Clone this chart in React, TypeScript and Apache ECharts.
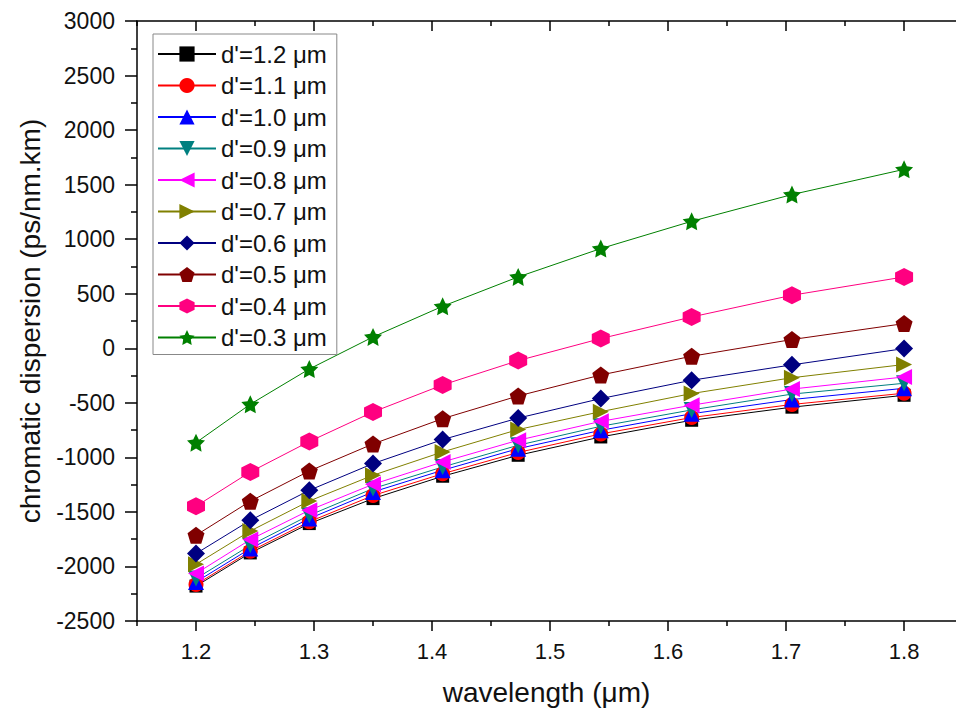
import React, { useEffect, useRef } from "react";
import * as echarts from "echarts";

const wavelength = [1.2, 1.246, 1.296, 1.35, 1.409, 1.473, 1.543, 1.62, 1.705, 1.8];

const d12 = [-2180, -1876, -1607, -1378, -1173, -981, -813, -660, -540, -431];
const d11 = [-2165, -1860, -1590, -1350, -1150, -955, -785, -635, -515, -412];
const d10 = [-2142, -1836, -1561, -1317, -1118, -920, -752, -600, -470, -367];
const d09 = [-2111, -1806, -1531, -1286, -1088, -889, -715, -565, -420, -321];
const d08 = [-2065, -1754, -1485, -1247, -1042, -843, -670, -522, -374, -263];
const d07 = [-1980, -1675, -1400, -1164, -950, -745, -581, -415, -270, -149];
const d06 = [-1882, -1577, -1302, -1057, -837, -640, -461, -293, -152, -3];
const d05 = [-1714, -1402, -1125, -877, -645, -437, -245, -73, 80, 226];
const d04 = [-1448, -1134, -855, -584, -336, -113, 89, 287, 486, 654];
const d03 = [-865, -513, -190, 104, 385, 654, 914, 1164, 1409, 1640];

const seriesNames = [
  "d'=1.2 μm",
  "d'=1.1 μm",
  "d'=1.0 μm",
  "d'=0.9 μm",
  "d'=0.8 μm",
  "d'=0.7 μm",
  "d'=0.6 μm",
  "d'=0.5 μm",
  "d'=0.4 μm",
  "d'=0.3 μm",
];
const seriesValues = [d12, d11, d10, d09, d08, d07, d06, d05, d04, d03];

const xMajorTicks = [1.2, 1.3, 1.4, 1.5, 1.6, 1.7, 1.8];
const xMinorTicks = [1.15, 1.25, 1.35, 1.45, 1.55, 1.65, 1.75];

const colors = [
  "#000000",
  "#FF0000",
  "#0000FF",
  "#008080",
  "#FF00FF",
  "#808000",
  "#000080",
  "#800000",
  "#FF0080",
  "#008000",
];

const PENTAGON = "path://M50,0 L97.55,34.55 L79.39,90.45 L20.61,90.45 L2.45,34.55 Z";
const HEXAGON = "path://M50,0 L93.3,25 L93.3,75 L50,100 L6.7,75 L6.7,25 Z";
const STAR =
  "path://M50,0 L64.7,29.8 L97.55,34.55 L73.8,57.7 L79.39,90.45 L50,75 L20.61,90.45 L26.2,57.7 L2.45,34.55 L35.3,29.8 Z";

const symbols: any[] = [
  { symbol: "rect", size: 13, rotate: 0 },
  { symbol: "circle", size: 15, rotate: 0 },
  { symbol: "triangle", size: 16, rotate: 0 },
  { symbol: "triangle", size: 16, rotate: 180 },
  { symbol: "triangle", size: 16, rotate: 90 },
  { symbol: "triangle", size: 16, rotate: -90 },
  { symbol: "diamond", size: 18, rotate: 0 },
  { symbol: PENTAGON, size: 17, rotate: 0 },
  { symbol: HEXAGON, size: 18, rotate: 0 },
  { symbol: STAR, size: 18, rotate: 0 },
];

const FONT = "'Liberation Sans', Arial, sans-serif";
const X_MIN = 1.15;
const X_MAX = 1.844;

export default function App() {
  const ref = useRef<HTMLDivElement>(null);

  useEffect(() => {
    if (!ref.current) return;
    const chart = echarts.init(ref.current, null, { renderer: "svg" });

    const axisLine = { show: true, onZero: false, lineStyle: { color: "#000", width: 1.5 } };
    const noLine = { show: false, onZero: false };
    const tickStyle = { color: "#000", width: 1.5 };

    const series = seriesNames.map((name, i) => ({
      name,
      type: "line",
      xAxisIndex: 0,
      yAxisIndex: 0,
      data: wavelength.map((x, j) => [x, seriesValues[i][j]]),
      symbol: symbols[i].symbol,
      symbolSize: symbols[i].size,
      symbolRotate: symbols[i].rotate,
      showSymbol: true,
      lineStyle: { color: colors[i], width: 1 },
      itemStyle: { color: colors[i], borderWidth: 0 },
      emphasis: { disabled: true },
    }));

    chart.setOption({
      animation: false,
      backgroundColor: "#ffffff",
      grid: { left: 137, right: 0, top: 21, bottom: 94, containLabel: false },
      legend: {
        orient: "vertical",
        left: 153,
        top: 34,
        padding: [8, 10, 5, 4],
        itemWidth: 58,
        itemHeight: 19,
        itemGap: 7.5,
        borderColor: "#888",
        borderWidth: 1,
        textStyle: { fontFamily: FONT, fontSize: 24, color: "#111" },
        data: seriesNames,
      },
      xAxis: [
        {
          type: "value",
          position: "bottom",
          min: X_MIN,
          max: X_MAX,
          axisLine,
          splitLine: { show: false },
          axisTick: { show: true, inside: false, length: 10, customValues: xMajorTicks, lineStyle: tickStyle },
          axisLabel: {
            show: true,
            customValues: xMajorTicks,
            formatter: (v: number) => v.toFixed(1),
            fontFamily: FONT,
            fontSize: 22,
            color: "#111",
            margin: 19,
          },
          name: "wavelength (μm)",
          nameLocation: "middle",
          nameGap: 57,
          nameTextStyle: { fontFamily: FONT, fontSize: 28, color: "#111" },
        },
        {
          type: "value",
          position: "bottom",
          min: X_MIN,
          max: X_MAX,
          axisLine: noLine,
          splitLine: { show: false },
          axisTick: { show: true, inside: false, length: 5, customValues: xMinorTicks, lineStyle: tickStyle },
          axisLabel: { show: false },
        },
        {
          type: "value",
          position: "top",
          min: X_MIN,
          max: X_MAX,
          axisLine,
          splitLine: { show: false },
          axisTick: { show: true, inside: true, length: 10, customValues: xMajorTicks, lineStyle: tickStyle },
          axisLabel: { show: false },
        },
        {
          type: "value",
          position: "top",
          min: X_MIN,
          max: X_MAX,
          axisLine: noLine,
          splitLine: { show: false },
          axisTick: { show: true, inside: true, length: 5, customValues: xMinorTicks, lineStyle: tickStyle },
          axisLabel: { show: false },
        },
      ],
      yAxis: [
        {
          type: "value",
          position: "left",
          min: -2500,
          max: 3000,
          interval: 500,
          axisLine,
          splitLine: { show: false },
          axisTick: { show: true, inside: false, length: 12, lineStyle: tickStyle },
          minorTick: { show: true, splitNumber: 2, length: 6, lineStyle: tickStyle },
          minorSplitLine: { show: false },
          axisLabel: {
            fontFamily: FONT,
            fontSize: 23,
            color: "#111",
            margin: 22,
            formatter: (v: number) => String(v),
          },
          name: "chromatic dispersion (ps/nm.km)",
          nameLocation: "middle",
          nameRotate: 90,
          nameGap: 93,
          nameTextStyle: { fontFamily: FONT, fontSize: 28, color: "#111" },
        },
      ],
      series,
    });

    return () => {
      chart.dispose();
    };
  }, []);

  return (
    <div
      ref={ref}
      style={{ position: "fixed", left: 0, top: 0, width: 956, height: 715, background: "#fff" }}
    />
  );
}
